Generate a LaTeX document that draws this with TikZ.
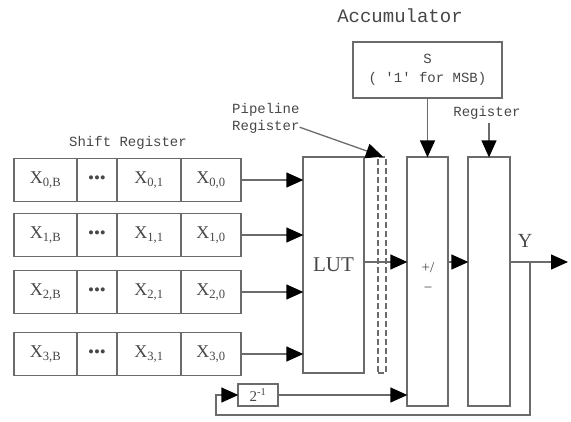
\documentclass[tikz,border=0pt]{standalone}
\usepackage{fontspec}
\setmainfont{Liberation Serif}
\setmonofont{Liberation Mono}
\usetikzlibrary{arrows.meta}

\definecolor{linecol}{gray}{0.42}
\definecolor{txtcol}{gray}{0.28}

\tikzset{
    wire/.style={draw=linecol, line width=1.3pt},
    arr/.style={wire, -{Triangle[length=17pt, width=15pt, black]}, shorten >=-1pt},
    cell/.style={wire, minimum height=43pt, inner sep=0pt, text=txtcol,
        font=\fontsize{18}{20}\selectfont},
    block/.style={wire, inner sep=0pt, text=txtcol},
    lbl/.style={text=txtcol, inner sep=0pt, font=\ttfamily\fontsize{14}{17}\selectfont}
}

\begin{document}
\begin{tikzpicture}[x=1pt, y=-1pt]
    \useasboundingbox (0, 0) rectangle (571, 421);

    % Shift register rows
    \node[lbl] (shiftlbl) at (128, 143) {Shift Register};
    \foreach \i/\y in {0/180, 1/235, 2/292, 3/354} {
        \node[cell, minimum width=63pt] (x\i b) at (45.5, \y) {X\textsubscript{\i,B}};
        \node[cell, minimum width=40pt] (dots\i) at (97, \y) {\fontsize{17}{17}\selectfont •••};
        \node[cell, minimum width=64pt] (x\i 1) at (149, \y) {X\textsubscript{\i,1}};
        \node[cell, minimum width=60pt] (x\i 0) at (211, \y) {X\textsubscript{\i,0}};
    }

    % LUT and pipeline register
    \node[block, minimum width=61pt, minimum height=216pt,
        font=\fontsize{21}{24}\selectfont] (lut) at (333.5, 265) {LUT};
    \node[wire, dashed, dash pattern=on 6pt off 3pt, minimum width=8pt,
        minimum height=216pt, inner sep=0pt] (pipe) at (382, 265) {};
    \node[lbl, align=left, anchor=north west] (pipelbl) at (232, 103) {Pipeline\\Register};

    \foreach \i in {0, 1, 2, 3}
        \draw[arr] (x\i 0.east) -- (x\i 0.east -| lut.west);
    \draw[arr] ([yshift=-9pt]pipelbl.east) -- (pipe.north);

    % Accumulator
    \node[lbl, font=\ttfamily\fontsize{19}{22}\selectfont] (acclbl) at (400, 16) {Accumulator};
    \node[block, minimum width=149pt, minimum height=56pt, align=center,
        font=\ttfamily\fontsize{14}{19}\selectfont] (sbox) at (427.5, 70) {S\\( '1' for MSB)};
    \node[block, minimum width=41pt, minimum height=249pt] (adder) at (427.5, 281.5) {};
    \node[text=txtcol, font=\fontsize{15}{16}\selectfont] (plus) at (428, 268) {+/};
    \node[text=txtcol, font=\fontsize{15}{16}\selectfont] (minus) at (428, 290) {\textminus};
    \node[block, minimum width=42pt, minimum height=249pt] (reg) at (489, 281.5) {};
    \node[lbl] (reglbl) at (487, 113) {Register};

    \draw[arr] (sbox.south) -- (adder.north);
    \draw[arr] (reg.north |- reglbl.south) ++(0, 3) -- (reg.north);

    % Data path and feedback
    \coordinate (out) at (530, 262);
    \coordinate (yend) at (567, 262);
    \coordinate (fb) at (216, 415);
    \node[block, minimum width=40pt, minimum height=22pt,
        font=\fontsize{15}{16}\selectfont] (half) at (258, 395) {2\textsuperscript{-1}};
    \node[text=txtcol, font=\fontsize{20}{22}\selectfont] (ylbl) at (525, 241) {Y};

    \draw[arr] (out -| lut.east) -- (out -| adder.west);
    \draw[arr] (out -| adder.east) -- (out -| reg.west);
    \draw[arr] (out -| reg.east) -- (yend);
    \draw[arr] (out) |- (fb) |- (half.west);
    \draw[arr] (half.east) -- (half.east -| adder.west);
\end{tikzpicture}
\end{document}
